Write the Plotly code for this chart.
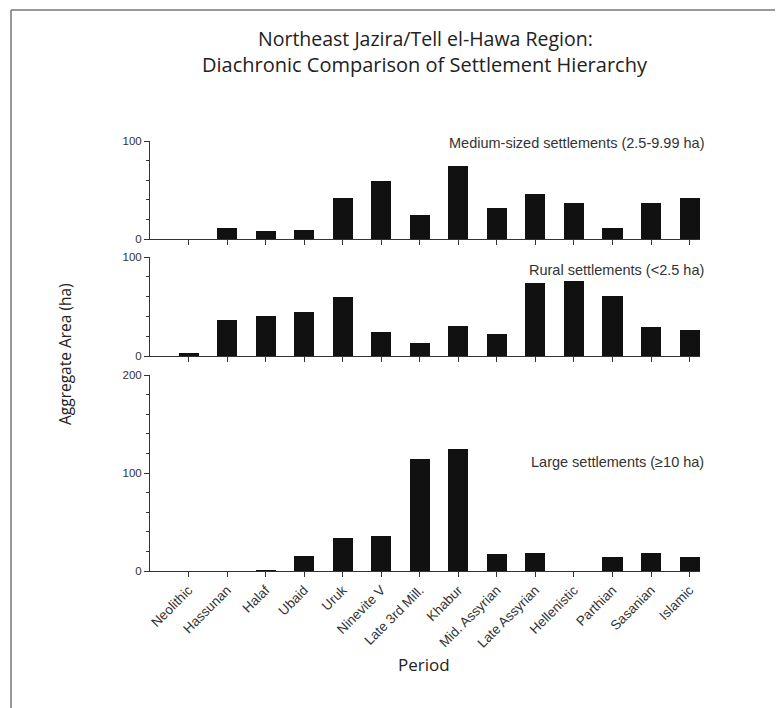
import plotly.graph_objects as go

periods = ["Neolithic", "Hassunan", "Halaf", "Ubaid", "Uruk", "Ninevite V", "Late 3rd Mill.",
           "Khabur", "Mid. Assyrian", "Late Assyrian", "Hellenistic", "Parthian", "Sasanian", "Islamic"]
medium = [0, 11, 8, 9, 41.5, 59, 25, 74, 32, 46, 36.5, 11, 37, 42]
rural = [3, 36, 40, 44, 60, 24, 13, 30, 22, 74, 76, 61, 29, 26]
large = [0, 0, 1, 15, 34, 36, 114, 124, 17, 18, 0, 14, 18, 14]

xs = list(range(len(periods)))

OFF = 8  # page body margin
W, H = 775, 700
# plot area in screenshot pixels
SX0, SX1, SY0, SY1 = 150, 700, 141, 571
L = SX0 - OFF
R = W - (SX1 - OFF)
T = SY0 - OFF
B = H - (SY1 - OFF)
pw = SX1 - SX0
ph = SY1 - SY0

def py(y):
    return (SY1 - y) / ph

def px(x):
    return (x - SX0) / pw

sans = "Liberation Sans, Arial, sans-serif"
tick_font = dict(family=sans, size=11.5, color="#333")
cat_font = dict(family=sans, size=13.5, color="#333")
label_font = dict(family=sans, size=14.5, color="#333")
title_font = dict(family="Open Sans, Noto Sans, sans-serif", size=19.5, color="#222")

fig = go.Figure()
bar_style = dict(marker=dict(color="#111111", line=dict(width=0)), width=0.52, showlegend=False)
fig.add_trace(go.Bar(x=xs, y=large, xaxis="x", yaxis="y", **bar_style))
fig.add_trace(go.Bar(x=xs, y=rural, xaxis="x2", yaxis="y2", **bar_style))
fig.add_trace(go.Bar(x=xs, y=medium, xaxis="x3", yaxis="y3", **bar_style))

xrange = [-1, 13.27]
xcommon = dict(range=xrange, showline=True, linecolor="#333", linewidth=1, ticks="outside",
               ticklen=5, tickcolor="#333", tickvals=xs, showgrid=False, zeroline=False,
               fixedrange=True)
ycommon = dict(showline=True, linecolor="#333", linewidth=1, ticks="outside", ticklen=5,
               tickcolor="#333", showgrid=False, zeroline=False, tickfont=tick_font,
               minor=dict(dtick=20, ticks="outside", ticklen=3, tickcolor="#333", showgrid=False))

d_bot = [0, py(375)]
d_mid = [py(356), py(257)]
d_top = [py(239), 1.0]

fig.update_layout(
    width=W, height=H,
    margin=dict(l=L, r=R, t=T, b=B),
    paper_bgcolor="white", plot_bgcolor="white",
    bargap=0,
    xaxis=dict(**xcommon, anchor="y", ticktext=periods, tickangle=-45, tickfont=cat_font),
    xaxis2=dict(**xcommon, anchor="y2", showticklabels=False),
    xaxis3=dict(**xcommon, anchor="y3", showticklabels=False),
    yaxis=dict(**ycommon, domain=d_bot, range=[0, 200], tickvals=[0, 100, 200], anchor="x"),
    yaxis2=dict(**ycommon, domain=d_mid, range=[0, 100], tickvals=[0, 100], anchor="x2"),
    yaxis3=dict(**ycommon, domain=d_top, range=[0, 100], tickvals=[0, 100], anchor="x3"),
)

annots = [
    dict(text="Northeast Jazira/Tell el-Hawa Region:", x=px(425), y=py(38),
         xanchor="center", yanchor="middle", font=title_font),
    dict(text="Diachronic Comparison of Settlement Hierarchy", x=px(425), y=py(64),
         xanchor="center", yanchor="middle", font=dict(title_font, size=20)),
    dict(text="Medium-sized settlements (2.5-9.99 ha)", x=px(706), y=py(143),
         xanchor="right", yanchor="middle", font=label_font),
    dict(text="Rural settlements (<2.5 ha)", x=px(706), y=py(270),
         xanchor="right", yanchor="middle", font=label_font),
    dict(text="Large settlements (≥10 ha)", x=px(706), y=py(462),
         xanchor="right", yanchor="middle", font=label_font),
    dict(text="Aggregate Area (ha)", x=px(65), y=py(354), textangle=-90,
         xanchor="center", yanchor="middle",
         font=dict(family="Open Sans, Noto Sans, sans-serif", size=15.5, color="#222")),
    dict(text="Period", x=px(424), y=py(664),
         xanchor="center", yanchor="middle",
         font=dict(family="Open Sans, Noto Sans, sans-serif", size=17, color="#222")),
]
for a in annots:
    a.update(xref="paper", yref="paper", showarrow=False)
fig.update_layout(annotations=annots)

# frame border (left and top)
fx = px(11)
fy_top = py(10)
fig.add_shape(type="line", xref="paper", yref="paper", x0=fx, x1=px(W + OFF + 5), y0=fy_top, y1=fy_top,
              line=dict(color="#777", width=1.5))
fig.add_shape(type="line", xref="paper", yref="paper", x0=fx, x1=fx, y0=fy_top, y1=py(H + OFF + 5),
              line=dict(color="#777", width=1.5))

fig.write_html("out.html")
